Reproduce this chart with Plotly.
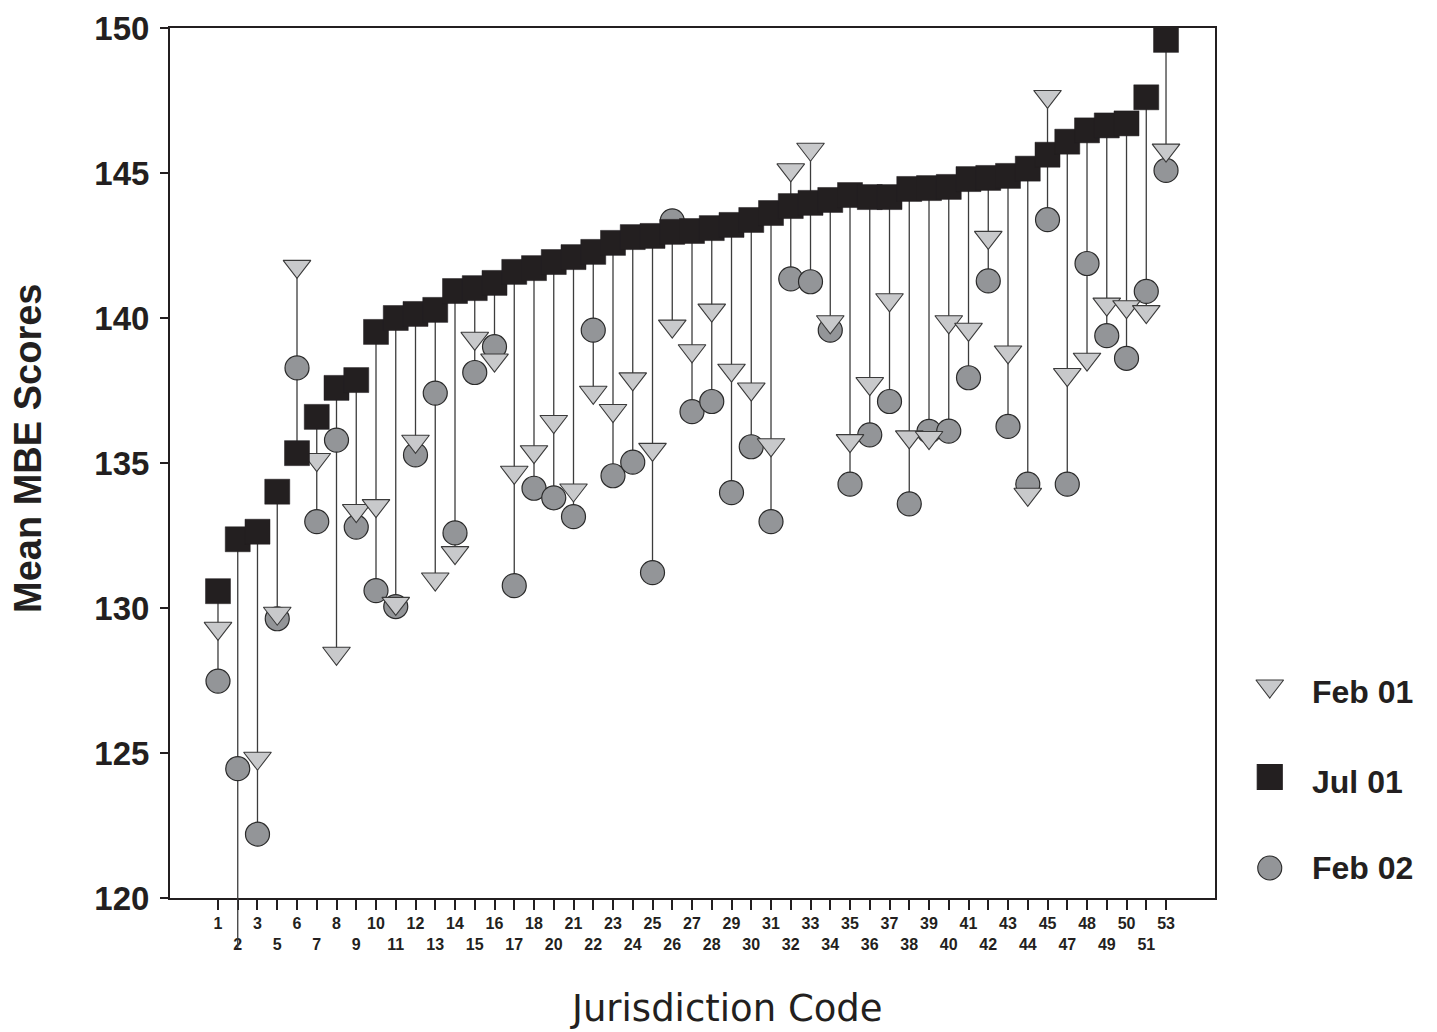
import plotly.graph_objects as go

# ---------------- data ----------------
codes = [1, 2, 3, 5, 6, 7, 8, 9, 10, 11, 12, 13, 14, 15, 16, 17, 18, 20, 21, 22,
         23, 24, 25, 26, 27, 28, 29, 30, 31, 32, 33, 34, 35, 36, 37, 38, 39, 40,
         41, 42, 43, 44, 45, 47, 48, 49, 50, 51, 53]

feb01 = [129.30, 118.28, 124.82, 129.82, 141.78, 135.12, 128.44, 133.36, 133.53, 130.16,
         135.75, 131.00, 131.91, 139.30, 138.55, 134.68, 135.39, 136.43, 134.07, 137.44,
         136.81, 137.90, 135.47, 139.72, 138.87, 140.27, 138.20, 137.55, 135.63, 145.11,
         145.82, 139.87, 135.77, 137.74, 140.63, 135.90, 135.88, 139.87, 139.61, 142.78,
         138.83, 133.92, 147.64, 138.05, 138.58, 140.48, 140.39, 140.22, 145.79]

jul01 = [130.58, 132.37, 132.63, 134.01, 135.34, 136.59, 137.59, 137.86, 139.52, 140.00,
         140.14, 140.28, 140.93, 141.03, 141.21, 141.59, 141.72, 141.93, 142.10, 142.28,
         142.59, 142.79, 142.83, 142.97, 143.00, 143.10, 143.21, 143.38, 143.62, 143.86,
         143.97, 144.07, 144.24, 144.17, 144.17, 144.45, 144.48, 144.52, 144.79, 144.83,
         144.90, 145.15, 145.63, 146.08, 146.47, 146.64, 146.71, 147.61, 149.59]

feb02 = [127.48, 124.46, 122.20, 129.63, 138.28, 132.98, 135.79, 132.79, 130.60, 130.05,
         135.28, 137.41, 132.59, 138.12, 139.01, 130.77, 134.13, 133.80, 133.15, 139.58,
         134.56, 135.03, 131.22, 143.35, 136.77, 137.12, 133.98, 135.56, 132.98, 141.35,
         141.25, 139.58, 134.27, 135.97, 137.12, 133.59, 136.09, 136.10, 137.94, 141.28,
         136.26, 134.27, 143.39, 134.27, 141.88, 139.39, 138.61, 140.92, 145.09]

series_names = ["Feb 01", "Jul 01", "Feb 02"]
y_ticks = [120, 125, 130, 135, 140, 145, 150]
Y_MIN, Y_MAX = 120, 150

# ---------------- styles ----------------
INK = "#231f20"
LINE = "#3c3c3c"
TRI_FILL = "#c8c9cb"
CIR_FILL = "#939598"
FONT = "Liberation Sans, Arial, sans-serif"

idx = list(range(len(codes)))
ticktext = [str(c) if i % 2 == 0 else "<br>" + str(c) for i, c in enumerate(codes)]

# vertical high-low lines
lx, ly = [], []
for i, a, b, c in zip(idx, feb01, jul01, feb02):
    lx += [i, i, None]
    ly += [max(a, b, c), min(a, b, c), None]

fig = go.Figure()
fig.add_trace(go.Scatter(x=lx, y=ly, mode="lines", line=dict(color=LINE, width=1.3),
                         hoverinfo="skip", showlegend=False))
fig.add_trace(go.Scatter(x=idx, y=feb02, mode="markers", name=series_names[2],
                         marker=dict(symbol="circle", size=24, color=CIR_FILL,
                                     line=dict(color="#2a2a2a", width=1.2)),
                         showlegend=False))
fig.add_trace(go.Scatter(x=idx, y=feb01, mode="markers", name=series_names[0],
                         marker=dict(symbol="triangle-down", size=24, color=TRI_FILL,
                                     line=dict(color="#3a3a3a", width=1.1)),
                         showlegend=False))
fig.add_trace(go.Scatter(x=idx, y=jul01, mode="markers", name=series_names[1],
                         marker=dict(symbol="square", size=25, color=INK,
                                     line=dict(color=INK, width=0.5)),
                         showlegend=False))

# line segments that continue below the axis (value below the axis minimum)
for i, a, b, c in zip(idx, feb01, jul01, feb02):
    lo = min(a, b, c)
    if lo < Y_MIN:
        fig.add_shape(type="line", xref="x", yref="paper", x0=i, x1=i, y0=0,
                      y1=(lo - Y_MIN) / (Y_MAX - Y_MIN),
                      line=dict(color=LINE, width=1.3))

# ---------------- custom legend (separate small axes at the right) ----------------
LEG_LEFT = 0.85
PAPER_W = 1437 - 162
leg_w = (1 - LEG_LEFT) * PAPER_W
leg_symbols = ["triangle-down", "square", "circle"]
leg_sizes = [24, 25, 24]
leg_fills = [TRI_FILL, INK, CIR_FILL]
leg_lines = ["#3a3a3a", INK, "#2a2a2a"]
leg_marker_y = [212, 121, 30]
leg_text_y = [206, 116, 30]
for name, sym, sz, fc, lc, my, ty in zip(series_names, leg_symbols, leg_sizes, leg_fills,
                                         leg_lines, leg_marker_y, leg_text_y):
    fig.add_trace(go.Scatter(x=[16], y=[my], xaxis="x2", yaxis="y2", mode="markers",
                             name=name, showlegend=False, hoverinfo="name",
                             marker=dict(symbol=sym, size=sz, color=fc,
                                         line=dict(color=lc, width=1.1))))
    fig.add_annotation(x=56, y=ty, xref="x2", yref="y2", text=name, showarrow=False,
                       xanchor="left", yanchor="middle",
                       font=dict(family=FONT, size=32, color=INK, weight="bold"))

# axis titles
fig.add_annotation(x=0.5, y=0, xref="x domain", yref="y domain", yanchor="middle",
                   xshift=34, yshift=-110, text="Jurisdiction Code", showarrow=False,
                   font=dict(family="DejaVu Sans, sans-serif", size=37, color=INK))
fig.add_annotation(x=0, y=0.5, xref="x domain", yref="y domain", xanchor="center",
                   xshift=-142, yshift=14, text="Mean MBE Scores", textangle=-90,
                   showarrow=False,
                   font=dict(family=FONT, size=38, color=INK, weight="bold"))

fig.update_layout(
    width=1437, height=1032,
    margin=dict(l=162, r=0, t=20, b=142),
    paper_bgcolor="white", plot_bgcolor="white",
    showlegend=False,
    xaxis=dict(domain=[0, 1045 / PAPER_W], range=[-2.43, 50.48],
               tickmode="array", tickvals=idx, ticktext=ticktext,
               ticks="outside", ticklen=10, tickwidth=1.5, tickcolor=INK,
               showline=True, linewidth=2, linecolor=INK, mirror=True,
               showgrid=False, zeroline=False, tickangle=0,
               tickfont=dict(family=FONT, size=16, color=INK, weight="bold")),
    yaxis=dict(range=[Y_MIN, Y_MAX], tickmode="array", tickvals=y_ticks,
               ticks="outside", ticklen=8, tickwidth=1.5, tickcolor=INK,
               showline=True, linewidth=2, linecolor=INK, mirror=True,
               showgrid=False, zeroline=False, ticklabelstandoff=4,
               tickfont=dict(family=FONT, size=33, color=INK, weight="bold")),
    xaxis2=dict(domain=[LEG_LEFT, 1.0], range=[0, leg_w], visible=False, anchor="y2"),
    yaxis2=dict(domain=[0, 1], range=[0, 870], visible=False, anchor="x2"),
)

fig.write_html("out.html")
